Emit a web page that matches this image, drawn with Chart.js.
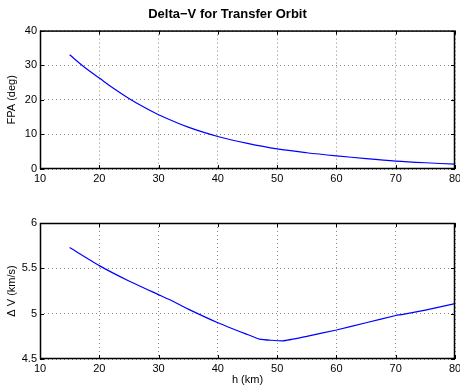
<!DOCTYPE html>
<html>
<head>
<meta charset="utf-8">
<script src="https://cdn.jsdelivr.net/npm/chart.js@4"></script>
<style>
  body { margin: 0; background: #fff; }
  #top { position: absolute; left: 0; top: 0; width: 460px; height: 196px; }
  #bottom { position: absolute; left: 0; top: 200px; width: 460px; height: 187px; }
</style>
</head>
<body>
<div id="top"><canvas id="fpaChart"></canvas></div>
<div id="bottom"><canvas id="dvChart"></canvas></div>
<script>
// altitude h (km) and values
const hFpa = [15, 17.5, 20, 22.5, 25, 27.5, 30, 35, 40, 45, 50, 55, 60, 65, 70, 75, 80];
const fpa = [33, 29.4, 26.3, 23.2, 20.4, 17.9, 15.7, 12.1, 9.4, 7.4, 5.8, 4.7, 3.8, 3.0, 2.3, 1.8, 1.4];

const hDv = [15, 20, 25, 30, 32, 35, 40, 45, 47, 51, 55, 60, 65, 70, 71, 75, 80];
const deltaV = [5.73, 5.53, 5.36, 5.21, 5.15, 5.05, 4.90, 4.77, 4.72, 4.70, 4.75, 4.82, 4.90, 4.98, 4.99, 5.04, 5.11];

const xTicks = [10, 20, 30, 40, 50, 60, 70, 80];

const font = { family: 'Liberation Sans, Arial, sans-serif', size: 11 };
Chart.defaults.font = font;
Chart.defaults.color = '#000';

// box around the plot area with inward tick marks, like the matlab axes
const boxPlugin = {
    id: 'box',
    afterDraw(chart) {
        const ctx = chart.ctx;
        const a = chart.chartArea;
        ctx.save();
        ctx.strokeStyle = '#000';
        ctx.lineWidth = 1.5;
        ctx.strokeRect(a.left + 0.5, a.top + 0.5, a.right - a.left - 1, a.bottom - a.top - 1);
        ctx.lineWidth = 1;
        ctx.beginPath();
        chart.scales.x.ticks.forEach(t => {
            const px = Math.round(chart.scales.x.getPixelForValue(t.value)) + 0.5;
            ctx.moveTo(px, a.bottom); ctx.lineTo(px, a.bottom - 4);
            ctx.moveTo(px, a.top); ctx.lineTo(px, a.top + 4);
        });
        chart.scales.y.ticks.forEach(t => {
            const py = Math.round(chart.scales.y.getPixelForValue(t.value)) + 0.5;
            ctx.moveTo(a.left, py); ctx.lineTo(a.left + 4, py);
            ctx.moveTo(a.right, py); ctx.lineTo(a.right - 4, py);
        });
        ctx.stroke();
        ctx.restore();
    }
};

function makeChart(id, xs, ys, opts) {
    const points = xs.map((x, i) => ({ x: x, y: ys[i] }));
    return new Chart(document.getElementById(id), {
        type: 'line',
        data: {
            datasets: [{
                data: points,
                borderColor: '#0000ff',
                borderWidth: 1.2,
                pointRadius: 0,
                tension: opts.tension,
                fill: false
            }]
        },
        options: {
            responsive: true,
            maintainAspectRatio: false,
            animation: false,
            layout: { padding: opts.padding },
            plugins: {
                legend: { display: false },
                tooltip: { enabled: false },
                title: opts.title ? {
                    display: true, text: opts.title,
                    font: { family: font.family, size: 13, weight: 'bold' },
                    padding: { top: 7, bottom: 8 }
                } : { display: false }
            },
            scales: {
                x: {
                    type: 'linear',
                    min: 10, max: 80,
                    afterBuildTicks: s => { s.ticks = xTicks.map(v => ({ value: v })); },
                    afterFit: s => { s.height = opts.xHeight; s.paddingRight = 0; },
                    grid: { color: '#888', drawTicks: false },
                    border: { display: false, dash: [1, 3] },
                    ticks: { padding: 3, autoSkip: false, maxRotation: 0 },
                    title: opts.xTitle ? { display: true, text: opts.xTitle, padding: { top: 0, bottom: 0 } } : { display: false }
                },
                y: {
                    min: opts.yMin, max: opts.yMax,
                    afterBuildTicks: s => { s.ticks = opts.yTicks.map(v => ({ value: v })); },
                    afterFit: s => { s.width = 40; },
                    grid: { color: '#888', drawTicks: false },
                    border: { display: false, dash: [1, 3] },
                    ticks: { padding: 3, callback: v => String(v) },
                    title: { display: true, text: opts.yTitle, padding: { top: 5, bottom: 0 } }
                }
            }
        },
        plugins: [boxPlugin]
    });
}

makeChart('fpaChart', hFpa, fpa, {
    title: 'Delta\u2212V for Transfer Orbit',
    yTitle: 'FPA (deg)',
    yMin: 0, yMax: 40, yTicks: [0, 10, 20, 30, 40],
    xHeight: 27,
    tension: 0.3,
    padding: { left: 0, right: 5, top: 0, bottom: 0 }
});

makeChart('dvChart', hDv, deltaV, {
    yTitle: '\u0394 V (km/s)',
    xTitle: 'h (km)',
    yMin: 4.5, yMax: 6, yTicks: [4.5, 5, 5.5, 6],
    xHeight: 28,
    tension: 0.15,
    padding: { left: 0, right: 5, top: 23, bottom: 0 }
});
</script>
</body>
</html>
